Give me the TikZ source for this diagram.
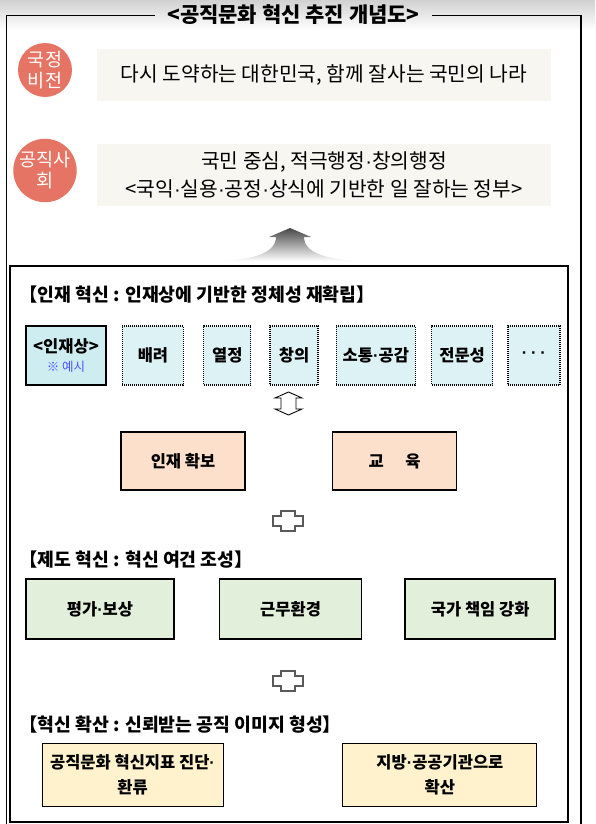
\documentclass[tikz,border=0pt]{standalone}
\usepackage{fontspec}
\setmainfont{Noto Sans CJK KR}
\newfontfamily\dotfont{Liberation Sans}
\newcommand\mdot{{\dotfont ·}}
\usetikzlibrary{positioning}

\definecolor{visionred}{HTML}{E67464}
\definecolor{goalbeige}{HTML}{F7F6F1}
\definecolor{modelcyan}{HTML}{CDEDF0}
\definecolor{traitcyan}{HTML}{DDF2F5}
\definecolor{corepeach}{HTML}{FCE0CB}
\definecolor{systemgreen}{HTML}{E2EFDA}
\definecolor{spreadyellow}{HTML}{FFF2CC}
\definecolor{noteblue}{HTML}{4F4FFF}

\begin{document}
\begin{tikzpicture}[
    x=1pt, y=-1pt,  % pixel grid, y runs down the page
    node distance=16pt,
    vision/.style = {circle, fill=visionred, text=white, minimum size=54pt, inner sep=0pt, align=center, font=\fontsize{18.5}{21}\selectfont},
    goal/.style = {fill=goalbeige, minimum width=454pt, align=center, font=\fontsize{20.3}{28}\selectfont},
    headline/.style = {anchor=west, inner sep=0pt, font=\bfseries\fontsize{18.3}{19}\selectfont},
    trait/.style = {draw, dash pattern=on 1pt off 1pt, line width=1.3pt, fill=traitcyan, minimum height=59pt, inner sep=0pt, align=center, font=\bfseries\fontsize{16.5}{19}\selectfont},
    core/.style = {draw, line width=1.6pt, fill=corepeach, minimum width=124pt, minimum height=58pt, font=\bfseries\fontsize{16.5}{18}\selectfont},
    system/.style = {draw, line width=1.6pt, fill=systemgreen, minimum height=60pt, font=\bfseries\fontsize{16.5}{18}\selectfont},
    spread/.style = {draw, line width=0.9pt, fill=spreadyellow, minimum height=63pt, inner xsep=1pt, align=center, font=\bfseries\fontsize{16.5}{25}\selectfont},
    joint/.style = {draw=black!65, line width=1.2pt, fill=white}
  ]
    \useasboundingbox (0,0) rectangle (595,824);
    \shade[top color=black!18, bottom color=white] (0,0) rectangle (595,30);

    % outer frame with the title in its top edge
    \coordinate (frameNW) at (6,15);
    \coordinate (frameNE) at (581,15);
    \coordinate (frameSW) at (6,824);
    \coordinate (frameSE) at (581,824);
    \node[font=\bfseries\fontsize{21}{22}\selectfont, inner xsep=12pt] (title) at (293.5,15) {<공직문화 혁신 추진 개념도>};
    \draw[line width=0.8pt] (title.west) -- (frameNW) -- (frameSW);
    \draw[line width=0.8pt] (title.east) -- (frameNE);
    \draw[line width=2pt] (frameNE) -- (frameSE);

    \node[vision] (vision) at (45,70) {국정\\비전};
    \node[goal, minimum height=52pt] (visionText) at (324,75) {다시 도약하는 대한민국, 함께 잘사는 국민의 나라};
    \node[vision] (public) at (45,170.5) {공직사\\회};
    \node[goal, minimum height=62pt] (publicText) at (324,175) {국민 중심, 적극행정\mdot 창의행정\\<국익\mdot 실용\mdot 공정\mdot 상식에 기반한 일 잘하는 정부>};

    % rising arrow
    \shade[top color=black!72, bottom color=white] (290,228) -- (311,237) -- (304,237)
      .. controls (304,252) and (325,260) .. (362,261) -- (218,261)
      .. controls (255,260) and (276,252) .. (276,237) -- (269,237) -- cycle;

    \draw[line width=2pt] (10,266) rectangle (568,822);

    % talent
    \node[headline] (talentHead) at (19,295) {【인재 혁신 : 인재상에 기반한 정체성 재확립】};
    \node[trait, solid, line width=1.6pt, fill=modelcyan, minimum width=80pt] (model) at (66,355.5) {<인재상>\\{\color{noteblue}\mdseries\fontsize{12.5}{14}\selectfont ※ 예시}};
    \node[trait, minimum width=61pt, right=15pt of model] (care) {배려};
    \node[trait, minimum width=47pt, right=19pt of care] (passion) {열정};
    \node[trait, minimum width=48pt, right=18pt of passion] (creative) {창의};
    \node[trait, minimum width=79pt, right=17pt of creative] (empathy) {소통\mdot 공감};
    \node[trait, minimum width=61pt, right=15pt of empathy] (expertise) {전문성};
    \node[trait, minimum width=52pt, right=14pt of expertise] (etc) {\mdot\ \mdot\ \mdot};

    \coordinate (swap) at (288.5,403.5);
    \draw[joint, draw=black, line width=0.9pt] (swap) ++(0,-11.5) -- ++(13.5,6) -- ++(-6,0) -- ++(0,11) -- ++(6,0)
      -- ++(-13.5,6) -- ++(-13.5,-6) -- ++(6,0) -- ++(0,-11) -- ++(-6,0) -- cycle;

    \node[core] (recruit) at (183,461) {인재 확보};
    \node[core, right=86pt of recruit] (training) {교\hspace{1.3em}육};

    \coordinate (joinA) at (288,521);
    \draw[joint] (joinA) ++(-7,-10) -- ++(14,0) -- ++(0,5) -- ++(8,0) -- ++(0,10) -- ++(-8,0) -- ++(0,5)
      -- ++(-14,0) -- ++(0,-5) -- ++(-8,0) -- ++(0,-10) -- ++(8,0) -- cycle;

    % system
    \node[headline] (systemHead) at (19,560) {【제도 혁신 : 혁신 여건 조성】};
    \node[system, minimum width=148pt] (reward) at (100,609) {평가\mdot 보상};
    \node[system, minimum width=142pt, right=44pt of reward] (workplace) {근무환경};
    \node[system, minimum width=150pt, right=42pt of workplace] (duty) {국가 책임 강화};

    \coordinate (joinB) at (288,681);
    \draw[joint] (joinB) ++(-7,-10) -- ++(14,0) -- ++(0,5) -- ++(8,0) -- ++(0,10) -- ++(-8,0) -- ++(0,5)
      -- ++(-14,0) -- ++(0,-5) -- ++(-8,0) -- ++(0,-10) -- ++(8,0) -- cycle;

    % spread
    \node[headline] (spreadHead) at (19,725) {【혁신 확산 : 신뢰받는 공직 이미지 형성】};
    \node[spread, minimum width=181pt] (index) at (132.5,774.5) {공직문화 혁신지표 진단\mdot\\환류};
    \node[spread, minimum width=194pt, right=119pt of index] (agency) {지방\mdot 공공기관으로\\확산};
  \end{tikzpicture}
\end{document}
